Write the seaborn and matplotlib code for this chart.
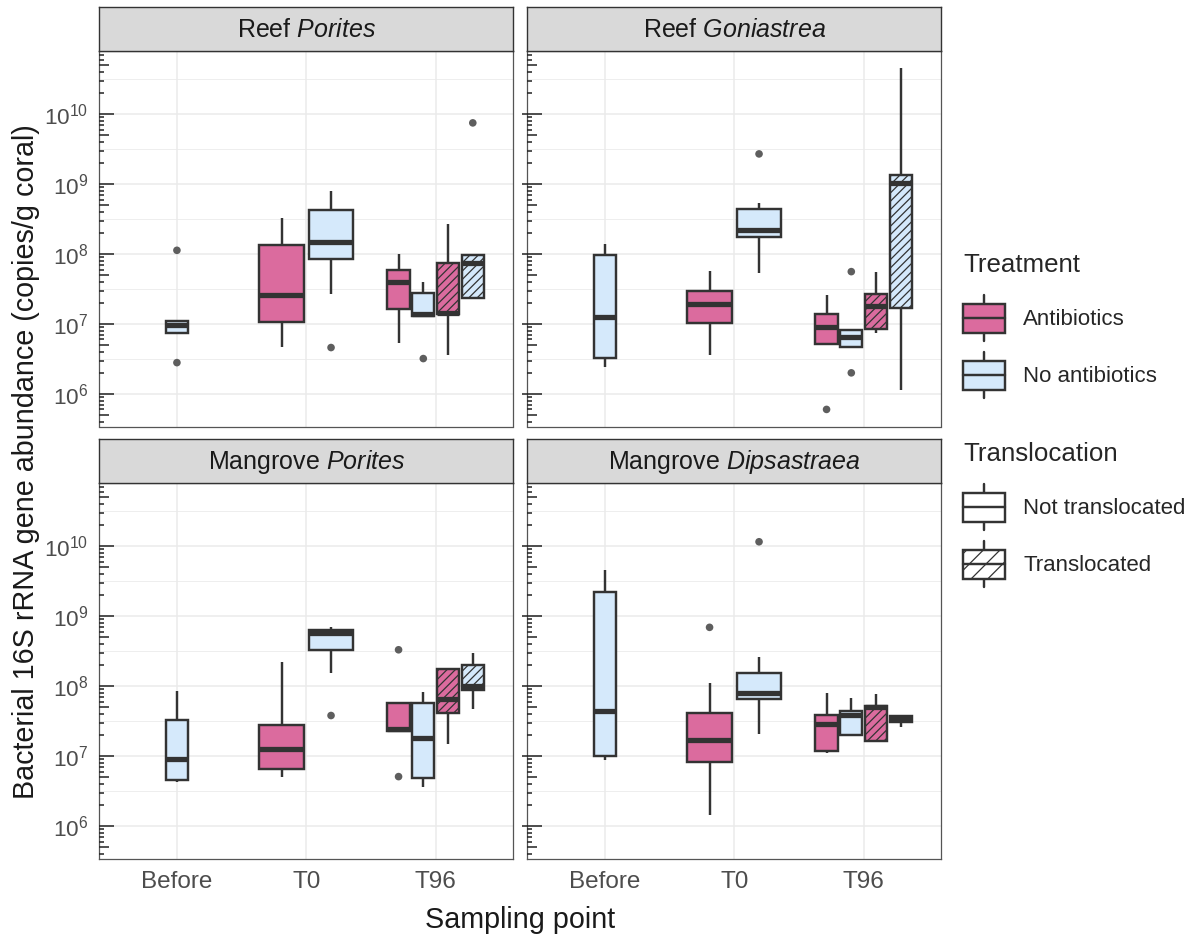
import numpy as np
import pandas as pd
import matplotlib
matplotlib.use("Agg")
import matplotlib.pyplot as plt
import matplotlib.transforms as mtransforms
from matplotlib.patches import Patch, Rectangle
from matplotlib.lines import Line2D
from matplotlib.legend_handler import HandlerBase
from matplotlib.ticker import FixedLocator, FuncFormatter, NullFormatter
import seaborn as sns

sns.set_theme(style="white")
plt.rcParams["font.family"] = ["Liberation Sans", "DejaVu Sans"]
plt.rcParams["mathtext.fontset"] = "custom"
plt.rcParams["mathtext.rm"] = "Liberation Sans"
plt.rcParams["mathtext.it"] = "Liberation Sans:italic"
plt.rcParams["hatch.linewidth"] = 0.9

# ---------------------------------------------------------------- data
PANELS = ["Reef Porites", "Reef Goniastrea", "Mangrove Porites", "Mangrove Dipsastraea"]
TIMES = ["Before", "T0", "T96"]

box_panel = (["Reef Porites"] * 7 + ["Reef Goniastrea"] * 7
             + ["Mangrove Porites"] * 7 + ["Mangrove Dipsastraea"] * 7)
box_time = ["Before", "T0", "T0", "T96", "T96", "T96", "T96"] * 4
box_treatment = ["No antibiotics", "Antibiotics", "No antibiotics",
                 "Antibiotics", "No antibiotics", "Antibiotics", "No antibiotics"] * 4
box_translocation = (["Not translocated"] * 5 + ["Translocated"] * 2) * 4

# five-number summaries (copies / g coral)
box_low = [7.4e6, 4.7e6, 2.7e7, 5.4e6, 1.3e7, 3.6e6, 2.33e7,
           2.45e6, 3.6e6, 5.4e7, 5.1e6, 4.7e6, 7.5e6, 1.14e6,
           4.3e6, 5.1e6, 1.55e8, 2.28e7, 3.6e6, 1.47e7, 4.7e7,
           8.7e6, 1.44e6, 2.04e7, 1.12e7, 2.0e7, 1.64e7, 2.63e7]
box_q1 = [7.4e6, 1.06e7, 8.4e7, 1.64e7, 1.3e7, 1.38e7, 2.33e7,
          3.3e6, 1.02e7, 1.73e8, 5.1e6, 4.7e6, 8.5e6, 1.67e7,
          4.6e6, 6.5e6, 3.3e8, 2.28e7, 4.9e6, 4.1e7, 8.8e7,
          1.02e7, 8.2e6, 6.5e7, 1.18e7, 2.0e7, 1.64e7, 3.06e7]
box_median = [9.8e6, 2.6e7, 1.47e8, 4.0e7, 1.39e7, 1.45e7, 7.4e7,
              1.27e7, 1.93e7, 2.2e8, 9.0e6, 6.6e6, 1.8e7, 1.04e9,
              9.0e6, 1.25e7, 5.8e8, 2.4e7, 1.83e7, 6.5e7, 1.0e8,
              4.4e7, 1.7e7, 8.0e7, 2.9e7, 3.9e7, 5.0e7, 3.4e7]
box_q3 = [1.11e7, 1.35e8, 4.2e8, 5.9e7, 2.8e7, 7.5e7, 9.6e7,
          9.7e7, 3.0e7, 4.4e8, 1.37e7, 8.2e6, 2.7e7, 1.37e9,
          3.3e7, 2.8e7, 6.3e8, 5.7e7, 5.8e7, 1.73e8, 1.98e8,
          2.23e9, 4.1e7, 1.55e8, 3.9e7, 4.4e7, 5.2e7, 3.7e7]
box_high = [1.11e7, 3.3e8, 8.0e8, 1.0e8, 4.0e7, 2.65e8, 9.6e7,
            1.37e8, 5.7e7, 5.4e8, 2.6e7, 8.2e6, 5.5e7, 4.6e10,
            8.5e7, 2.2e8, 7.0e8, 5.7e7, 8.3e7, 1.78e8, 3.0e8,
            4.6e9, 1.09e8, 2.63e8, 7.9e7, 6.7e7, 7.7e7, 3.7e7]

# outlying samples
out_panel = ["Reef Porites", "Reef Porites", "Reef Porites", "Reef Porites", "Reef Porites",
             "Reef Goniastrea", "Reef Goniastrea", "Reef Goniastrea", "Reef Goniastrea",
             "Mangrove Porites", "Mangrove Porites", "Mangrove Porites",
             "Mangrove Dipsastraea", "Mangrove Dipsastraea"]
out_time = ["Before", "Before", "T0", "T96", "T96",
            "T0", "T96", "T96", "T96",
            "T0", "T96", "T96",
            "T0", "T0"]
out_treatment = ["No antibiotics", "No antibiotics", "No antibiotics", "No antibiotics", "No antibiotics",
                 "No antibiotics", "Antibiotics", "No antibiotics", "No antibiotics",
                 "No antibiotics", "Antibiotics", "Antibiotics",
                 "Antibiotics", "No antibiotics"]
out_translocation = ["Not translocated", "Not translocated", "Not translocated", "Not translocated", "Translocated",
                     "Not translocated", "Not translocated", "Not translocated", "Not translocated",
                     "Not translocated", "Not translocated", "Not translocated",
                     "Not translocated", "Not translocated"]
out_value = [1.13e8, 2.8e6, 4.6e6, 3.2e6, 7.5e9,
             2.7e9, 6.0e5, 5.6e7, 2.0e6,
             3.8e7, 3.3e8, 5.1e6,
             6.9e8, 1.15e10]

# ---------------------------------------------------------------- style
FILL = {"Antibiotics": "#DB6B9E", "No antibiotics": "#D5E9FB"}
EDGE = "#333333"
GRID = "#EBEBEB"
TICK_TXT = "#4D4D4D"
HATCH = "////"
BOX_LW = 1.75

W, H = 1201, 939
fig = plt.figure(figsize=(W / 100, H / 100), dpi=100)


def fig_rect(x0, y0, x1, y1):
    return [x0 / W, 1 - y1 / H, (x1 - x0) / W, (y1 - y0) / H]


col_x = [(99.3, 513.3), (527.3, 941.3)]
row_y = [(50.7, 426.5), (482.5, 858.8)]
strip_h = 43.6

# dodge layout: number of slots per sampling point within a group of fixed width
group_width = 0.765
slots = {"Before": 4, "T0": 2, "T96": 4}

boxes = pd.DataFrame({
    "panel": box_panel, "time": box_time, "treatment": box_treatment,
    "translocation": box_translocation,
    "low": box_low, "q1": box_q1, "median": box_median, "q3": box_q3, "high": box_high,
})
boxes["rank"] = boxes.groupby(["panel", "time"]).cumcount()
boxes["count"] = boxes.groupby(["panel", "time"])["rank"].transform("size")
boxes["slot"] = group_width / boxes["time"].map(slots)
boxes["pos"] = (boxes["time"].map(TIMES.index)
                + (boxes["rank"] - (boxes["count"] - 1) / 2) * boxes["slot"])
boxes["width"] = boxes["slot"] * 0.9

outliers = pd.DataFrame({
    "panel": out_panel, "time": out_time, "treatment": out_treatment,
    "translocation": out_translocation, "value": out_value,
})
outliers = outliers.merge(boxes[["panel", "time", "treatment", "translocation", "pos"]],
                          on=["panel", "time", "treatment", "translocation"])

# shared log range with a 5 % margin
all_vals = np.log10(np.concatenate([box_low, box_high, out_value]))
span = all_vals.max() - all_vals.min()
ylim = (10 ** (all_vals.min() - 0.05 * span), 10 ** (all_vals.max() + 0.05 * span))

major = [10.0 ** k for k in range(6, 11)]
minor = [10.0 ** (k + 0.5) for k in range(5, 11)]

axes = {}
for idx, panel in enumerate(PANELS):
    r, c = divmod(idx, 2)
    x0, x1 = col_x[c]
    y0, y1 = row_y[r]
    ax = fig.add_axes(fig_rect(x0, y0, x1, y1))
    ax.set_yscale("log")
    axes[panel] = ax

    # strip label
    sax = fig.add_axes(fig_rect(x0, y0 - strip_h, x1, y0))
    sax.set_facecolor("#D9D9D9")
    sax.set_xticks([])
    sax.set_yticks([])
    for sp in sax.spines.values():
        sp.set_color(EDGE)
        sp.set_linewidth(1.0)
    site, genus = panel.split(" ")
    sax.text(0.5, 0.47, f"{site} $\\mathit{{{genus}}}$", ha="center", va="center",
             fontsize=18, color="#1A1A1A", transform=sax.transAxes)

for i, row in boxes.iterrows():
    ax = axes[row["panel"]]
    vals = [row["low"], row["q1"], row["median"], row["q3"], row["high"]]
    sns.boxplot(x=np.full(5, row["pos"]), y=vals, ax=ax, native_scale=True, orient="x",
                width=row["width"], whis=(0, 100), color=FILL[row["treatment"]],
                linecolor=EDGE, linewidth=BOX_LW, saturation=1, fliersize=0,
                showcaps=False, medianprops={"linewidth": 3.8})
    if row["translocation"] == "Translocated":
        ax.patches[-1].set_hatch(HATCH)

for panel, grp in outliers.groupby("panel"):
    sns.scatterplot(data=grp, x="pos", y="value", ax=axes[panel], color="#5E5E5E",
                    s=30, edgecolor="none", legend=False, zorder=3)

for idx, panel in enumerate(PANELS):
    r, c = divmod(idx, 2)
    ax = axes[panel]
    ax.set_xlim(-0.6, 2.6)
    ax.set_ylim(*ylim)
    ax.set_xlabel("")
    ax.set_ylabel("")
    ax.set_axisbelow(True)
    ax.yaxis.set_major_locator(FixedLocator(major))
    ax.yaxis.set_minor_locator(FixedLocator(minor))
    ax.yaxis.set_major_formatter(FuncFormatter(
        lambda v, _: f"$\\mathregular{{10^{{{int(round(np.log10(v)))}}}}}$"))
    ax.yaxis.set_minor_formatter(NullFormatter())
    ax.set_xticks(range(len(TIMES)))
    ax.set_xticklabels(TIMES)
    ax.grid(which="major", color=GRID, linewidth=1.1)
    ax.grid(which="minor", axis="y", color=GRID, linewidth=0.6)
    ax.tick_params(axis="y", which="minor", length=0)
    ax.tick_params(axis="y", which="major", length=0, pad=8.0, labelsize=16.2,
                   labelcolor=TICK_TXT, labelleft=(c == 0))
    ax.tick_params(axis="x", length=3.2 if r == 1 else 0, width=0.8, color=EDGE,
                   pad=5.5, labelsize=17.5, labelcolor=TICK_TXT, labelbottom=(r == 1))
    for sp in ax.spines.values():
        sp.set_color("#555555")
        sp.set_linewidth(0.9)

    # log ticks along the left edge of every panel
    trans = mtransforms.blended_transform_factory(ax.transAxes, ax.transData)
    width_px = col_x[c][1] - col_x[c][0]
    for k in range(5, 12):
        for m in range(1, 10):
            v = m * 10.0 ** k
            if not (ylim[0] <= v <= ylim[1]):
                continue
            length = 15 if m == 1 else (10 if m == 5 else 5)
            start = -5 if (m == 1 and c == 1) else 0
            ax.plot([start / width_px, length / width_px], [v, v], transform=trans,
                    color="#222222", linewidth=1.1, solid_capstyle="butt",
                    clip_on=False, zorder=4)

# axis titles
fig.text(34.5 / W, 1 - 462 / H, "Bacterial 16S rRNA gene abundance (copies/g coral)",
         rotation=90, rotation_mode="anchor", ha="center", va="baseline",
         fontsize=20.7, color="#1A1A1A")
fig.text(520 / W, 1 - 928 / H, "Sampling point", ha="center", va="baseline",
         fontsize=20.7, color="#1A1A1A")


# legends with boxplot-shaped keys
class BoxKey(HandlerBase):
    def create_artists(self, legend, orig_handle, xdescent, ydescent, width, height,
                       fontsize, trans):
        x0, y0 = -xdescent, -ydescent
        bh = 0.63 * height
        by = y0 + (height - bh) / 2
        cx = x0 + width / 2
        lw = BOX_LW
        return [
            Line2D([cx, cx], [y0, by], color=EDGE, lw=lw, transform=trans),
            Line2D([cx, cx], [by + bh, y0 + height], color=EDGE, lw=lw, transform=trans),
            Rectangle((x0, by), width, bh, facecolor=orig_handle.get_facecolor(),
                      edgecolor=EDGE, lw=lw, hatch=orig_handle.get_hatch(), transform=trans),
            Line2D([x0, x0 + width], [by + bh / 2] * 2, color=EDGE, lw=lw, transform=trans),
        ]


legend_kw = dict(loc="upper left", frameon=False, handler_map={Patch: BoxKey()},
                 fontsize=16, title_fontsize=18.6, handlelength=1.9, handleheight=2.81,
                 labelspacing=0.5, handletextpad=0.8, borderpad=0, borderaxespad=0,
                 alignment="left", bbox_transform=fig.transFigure)

treat_handles = [Patch(facecolor=FILL[t], label=t) for t in ["Antibiotics", "No antibiotics"]]
leg1 = fig.legend(handles=treat_handles, title="Treatment",
                  bbox_to_anchor=(963 / W, 1 - 253 / H), **legend_kw)

transl_handles = [Patch(facecolor="white", label="Not translocated"),
                  Patch(facecolor="white", hatch="//", label="Translocated")]
leg2 = fig.legend(handles=transl_handles, title="Translocation",
                  bbox_to_anchor=(963 / W, 1 - 442 / H), **legend_kw)

# a little more room between each legend title and its keys
for leg in (leg1, leg2):
    leg._legend_box.sep += 5

fig.savefig("out.png", dpi=100)
